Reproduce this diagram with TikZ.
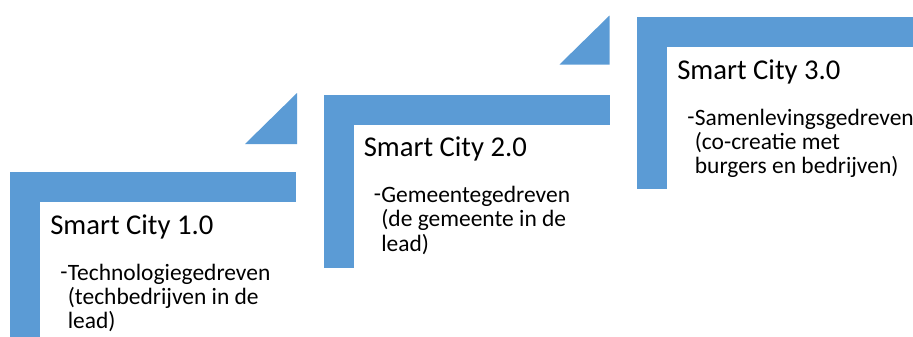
\documentclass[tikz,border=0pt]{standalone}
\usepackage{fontspec}
\setmainfont{Carlito}
\definecolor{stepblue}{HTML}{5B9BD5}

\begin{document}
\begin{tikzpicture}[x=0.75pt,y=-0.75pt,
  stepbar/.style={fill=stepblue},
  titletext/.style={anchor=base west,inner sep=0pt,font=\fontsize{21.5}{25}\selectfont},
  bodytext/.style={anchor=base west,inner sep=0pt,font=\fontsize{17.6}{18}\selectfont}]
\clip (0,0) rectangle (913,336);

% step 1
\begin{scope}[shift={(10,172)}]
\fill[stepbar] (0,0) rectangle (286,30);
\fill[stepbar] (0,0) rectangle (30,173);
\fill[stepbar] (235,-28) -- (287,-79) -- (287,-28) -- cycle;
\node[titletext] (title1) at (40,62) {Smart City 1.0};
\node[bodytext] (body1) at (50,108) {\begin{tabular}[t]{@{}l@{\hspace{0.3pt}}l@{}}
\raisebox{0.03em}{-}&Technologiegedreven\\ &(techbedrijven in de\\ &lead)\end{tabular}};
\end{scope}

% step 2
\begin{scope}[shift={(323.5,94.5)}]
\fill[stepbar] (0,0) rectangle (286,30);
\fill[stepbar] (0,0) rectangle (30,173);
\fill[stepbar] (236,-30) -- (286,-79) -- (286,-30) -- cycle;
\node[titletext] (title2) at (40,62) {Smart City 2.0};
\node[bodytext] (body2) at (50,108) {\begin{tabular}[t]{@{}l@{\hspace{0.3pt}}l@{}}
\raisebox{0.03em}{-}&Gemeentegedreven\\ &(de gemeente in de\\ &lead)\end{tabular}};
\end{scope}

% step 3
\begin{scope}[shift={(637,17)}]
\fill[stepbar] (0,0) rectangle (286,30);
\fill[stepbar] (0,0) rectangle (30,172);
\node[titletext] (title3) at (40,62) {Smart City 3.0};
\node[bodytext] (body3) at (50,108) {\begin{tabular}[t]{@{}l@{\hspace{0.3pt}}l@{}}
\raisebox{0.03em}{-}&Samenlevingsgedreven\\ &(co-creatie met\\ &burgers en bedrijven)\end{tabular}};
\end{scope}
\end{tikzpicture}
\end{document}
